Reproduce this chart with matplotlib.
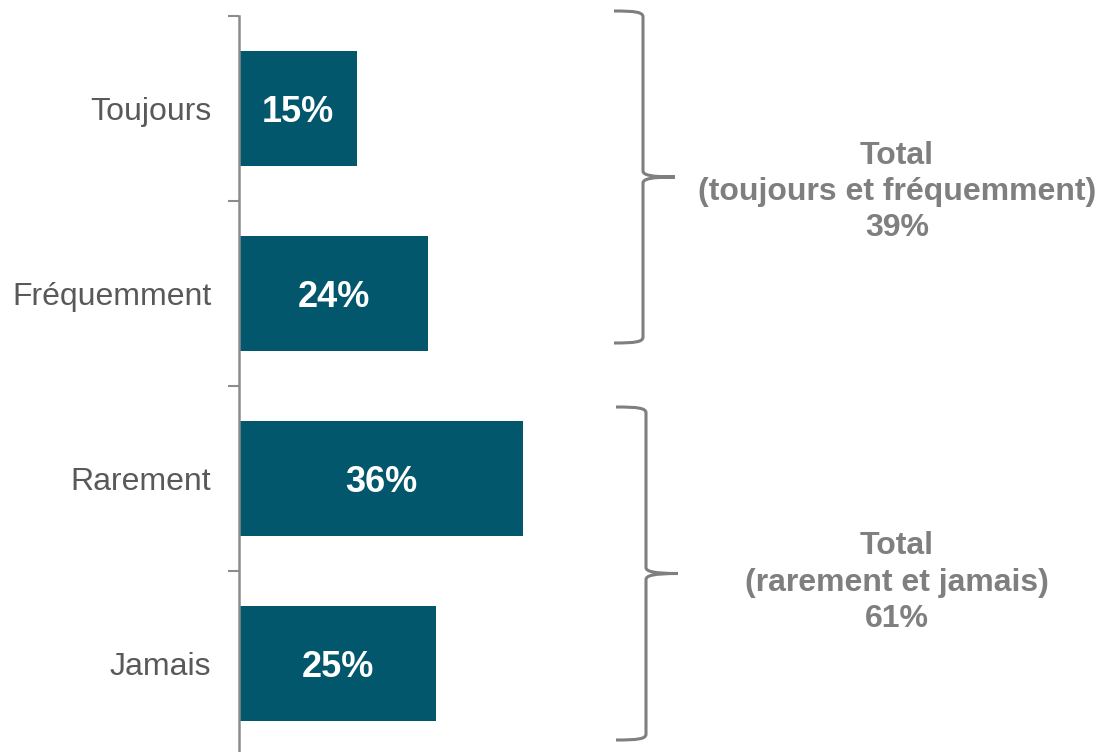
import matplotlib.pyplot as plt
from matplotlib.path import Path
from matplotlib.patches import PathPatch
import numpy as np

plt.rcParams['font.family'] = ['Liberation Sans', 'DejaVu Sans']

categories = ["Toujours", "Fréquemment", "Rarement", "Jamais"]
values = [15, 24, 36, 25]
group_labels = [
    "Total\n(toujours et fréquemment)\n39%",
    "Total\n(rarement et jamais)\n61%",
]

bar_color = "#02576c"
gray = "#7f7f7f"

W, H = 1101, 752
fig = plt.figure(figsize=(W / 100, H / 100), dpi=100)

# axes in pixel terms: left spine at x=239, top at y=16, 185 px per category
px_per_pct = 7.88
left, top, step = 239, 16, 185
bottom = top + step * len(categories)
ax = fig.add_axes([left / W, 1 - bottom / H, (W - left) / W, (bottom - top) / H])
ax.set_xlim(0, (W - left) / px_per_pct)
ax.set_ylim(len(categories) - 0.5, -0.5)

y = np.arange(len(categories))
ax.barh(y, values, height=0.62, color=bar_color)
for yi, v in zip(y, values):
    ax.text(v / 2, yi, f"{v}%", ha="center", va="center_baseline", color="white",
            fontsize=26, fontweight="bold")

ax.set_yticks(y)
ax.set_yticklabels(categories, fontsize=23, color="#595959")
ax.set_yticks(np.arange(-0.5, len(categories)), minor=True)
ax.tick_params(axis="y", which="major", length=0, pad=20)
ax.tick_params(axis="y", which="minor", length=8, width=1.5, color="#8c8c8c")
ax.set_xticks([])
for s in ["top", "right", "bottom"]:
    ax.spines[s].set_visible(False)
ax.spines["left"].set_color("#8c8c8c")
ax.spines["left"].set_linewidth(1.8)

# overlay in pixel coordinates for the braces
ov = fig.add_axes([0, 0, 1, 1], facecolor="none")
ov.set_xlim(0, W)
ov.set_ylim(H, 0)
ov.axis("off")


def brace(x0, xv, xt, y0, y1, r=6):
    ym = (y0 + y1) / 2
    verts = [
        (x0, y0), (xv - 8, y0), (xv, y0 + 1), (xv, y0 + r),
        (xv, ym - r),
        (xv, ym - 2), (xv + 8, ym), (xt, ym),
        (xv + 8, ym), (xv, ym + 2), (xv, ym + r),
        (xv, y1 - r),
        (xv, y1 - 1), (xv - 8, y1), (x0, y1),
    ]
    codes = [Path.MOVETO, Path.CURVE4, Path.CURVE4, Path.CURVE4,
             Path.LINETO,
             Path.CURVE4, Path.CURVE4, Path.CURVE4,
             Path.CURVE4, Path.CURVE4, Path.CURVE4,
             Path.LINETO,
             Path.CURVE4, Path.CURVE4, Path.CURVE4]
    ov.add_patch(PathPatch(Path(verts, codes), fill=False, edgecolor=gray, lw=2.2))
    return ym


mids = [brace(614, 643, 675, 11, 343), brace(616, 646, 678, 407, 740)]

for label, ym, dy in zip(group_labels, mids, [15, 9]):
    ov.text(897, ym + dy, label, ha="center", va="center", color=gray,
            fontsize=23, fontweight="bold", linespacing=1.28)

fig.savefig("out.png", dpi=100)
